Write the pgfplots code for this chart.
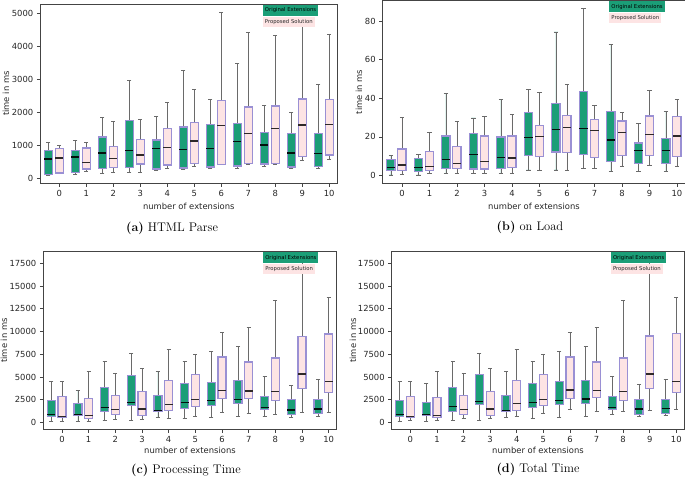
\documentclass[border=0pt]{standalone}
\usepackage{fontspec}
\usepackage{pgfplots}
\usepackage{pgfplotstable}
\pgfplotsset{compat=1.18}
\usepgfplotslibrary{statistics}
\newfontfamily\dv{DejaVu Sans}
\definecolor{gfill}{HTML}{1B9E77}
\definecolor{pfill}{HTML}{FDE4E4}
\definecolor{bedge}{HTML}{9A90D4}
\definecolor{whisk}{HTML}{6A6A6A}
\definecolor{frame}{HTML}{444444}
\definecolor{pmed}{HTML}{2E2828}

% ---- HTML Parse ----
\pgfplotstableread{
lw q1 med q3 uw
100 120 590 855 1090
120 190 655 845 1157
150 310 775 1257 1860
180 340 855 1750 2968
260 290 905 1167 1880
290 320 875 1560 3270
312 352 915 1630 2404
312 382 1117 1670 3471
362 443 1016 1388 2203
312 352 775 1368 2002
302 372 755 1368 2847
}\aG
\pgfplotstableread{
lw q1 med q3 uw
160 170 625 905 1005
220 290 490 925 1097
200 340 615 965 1740
200 440 715 1177 1800
320 410 945 1510 2314
370 460 1137 1700 2706
423 433 1600 2364 5030
440 453 1358 2163 4417
430 453 1519 2193 4336
563 674 1620 2404 4700
594 714 1640 2384 4366
}\aP
% ---- on Load ----
\pgfplotstableread{
lw q1 med q3 uw
0.3 2.6 4.1 8.4 10.5
0.3 2.2 4.3 8.8 10.8
1.2 3.8 8.3 20.5 42.5
0.9 3.4 10.8 21.8 29.8
1.2 3.6 9.5 20.0 39.2
2.9 10.3 19.8 32.7 44.6
2.9 12.2 23.9 37.3 74.3
3.8 10.8 24.3 43.7 86.4
2.2 7.1 18.4 33.0 68.0
2.2 6.2 13.1 16.9 27.2
1.9 6.2 12.9 19.1 33.0
}\bG
\pgfplotstableread{
lw q1 med q3 uw
0.7 2.6 5.5 13.8 30.1
0.9 2.8 4.6 12.4 22.2
0.9 3.6 6.4 15.0 28.0
0.9 3.4 7.2 20.5 30.8
0.9 4.3 9.1 20.5 31.7
2.9 9.8 20.1 26.0 43.0
2.9 12.0 24.9 31.1 47.0
3.8 9.5 23.4 29.1 36.5
5.0 10.2 22.4 28.2 32.5
5.5 10.5 21.3 30.8 43.9
5.0 10.0 20.5 30.6 39.6
}\bP
% ---- Processing Time ----
\pgfplotstableread{
lw q1 med q3 uw
147 697 844 2421 4512
147 770 880 2128 3522
183 1174 1614 3852 6713
257 1871 2201 5209 7630
514 1174 1284 2971 5576
477 1577 2201 4255 6713
514 1834 2384 4402 7777
660 2054 2531 4659 8401
660 1431 1614 2898 5062
587 844 1357 2531 4109
697 990 1467 2531 4732
}\cG
\pgfplotstableread{
lw q1 med q3 uw
147 514 660 2825 4512
147 477 770 2678 5650
293 844 1431 2971 5393
293 770 1467 3412 5906
477 1357 1981 4622 7997
697 1797 2531 5282 7483
1137 2605 3522 7190 9905
954 2678 3448 6640 10455
917 2458 3412 7080 13463
1100 3742 5319 9464 17900
1137 3302 4512 9721 13757
}\cP
% ---- Total Time ----
\pgfplotstableread{
lw q1 med q3 uw
147 697 844 2421 4512
147 770 880 2201 4329
220 1174 1761 3852 6713
257 1944 2311 5282 7630
587 1174 1284 3008 5576
440 1651 2201 4255 6750
514 1981 2421 4475 7814
660 2091 2568 4659 8401
844 1431 1614 2898 5026
697 880 1467 2494 4145
770 990 1541 2531 4732
}\dG
\pgfplotstableread{
lw q1 med q3 uw
257 514 660 2861 4512
257 514 770 2715 5650
440 844 1431 2971 5429
440 807 1467 3412 5906
660 1357 2054 4622 7997
954 1834 2531 5282 7483
1394 2641 3558 7190 9905
1247 2715 3485 6640 10455
1247 2458 3412 7080 13463
1357 3742 5319 9501 17900
1431 3302 4512 9758 13757
}\dP

\pgfplotsset{
  panel/.style={
    scale only axis, anchor=south west,
    xmin=-0.7, xmax=10.3,
    xtick={0,...,10},
    tick align=outside, tick pos=left,
    major tick length=3.5pt,
    axis line style={draw=frame, line width=0.8pt},
    every tick/.style={draw=frame, line width=0.8pt},
    ticklabel style={font=\dv\fontsize{8.4}{10}\selectfont, text=black!85},
    /pgf/number format/assume math mode=true,
    /pgf/number format/1000 sep={},
    scaled y ticks=false,
    xlabel={number of extensions},
    ylabel={time in ms},
    label style={font=\dv\fontsize{8.4}{10}\selectfont, text=black!85},
    boxplot/draw direction=y,
    boxplot/box extend=0.30,
    boxplot/whisker extend=0.15,
    boxplot/every whisker/.style={draw=whisk, line width=0.8pt},
    boxplot/every box/.style={draw=bedge, line width=1.2pt},
  },
  gbox/.style={fill=gfill, draw=bedge,
    boxplot/every median/.style={draw=black!90!gfill, line width=1.3pt}},
  pbox/.style={fill=pfill, draw=bedge,
    boxplot/every median/.style={draw=pmed, line width=1.3pt}},
}
\newcommand{\legendnodes}{%
  \node[anchor=north west, fill=gfill, text=black, font=\dv\fontsize{5.3}{6}\selectfont,
        inner xsep=2pt, inner ysep=0pt, minimum height=11pt] at (axis description cs:0.749,0.998) {Original Extensions};
  \node[anchor=north west, fill=pfill, text=black!85, font=\dv\fontsize{5.3}{6}\selectfont,
        inner xsep=2pt, inner ysep=0pt, minimum height=10pt] at (axis description cs:0.749,0.931) {Proposed Solution};
}
% one box: #1 style, #2 table, #3 row, #4 draw position
\newcommand{\onebox}[4]{%
  \pgfplotstablegetelem{#3}{lw}\of#2\let\vlw\pgfplotsretval
  \pgfplotstablegetelem{#3}{q1}\of#2\let\vqa\pgfplotsretval
  \pgfplotstablegetelem{#3}{med}\of#2\let\vmed\pgfplotsretval
  \pgfplotstablegetelem{#3}{q3}\of#2\let\vqb\pgfplotsretval
  \pgfplotstablegetelem{#3}{uw}\of#2\let\vuw\pgfplotsretval
  \edef\tmpplot{\noexpand\addplot[#1, boxplot prepared={draw position=#4,
      lower whisker=\vlw, lower quartile=\vqa, median=\vmed,
      upper quartile=\vqb, upper whisker=\vuw}] coordinates {};}%
  \tmpplot
}
\newcommand{\boxes}[2]{%
  \pgfplotsinvokeforeach{0,...,10}{
    \onebox{gbox}{#1}{##1}{##1-0.4}
    \onebox{pbox}{#2}{##1}{##1}
  }%
}

\begin{document}
\begin{tikzpicture}
\path[use as bounding box] (0,0) rectangle (685pt,477pt);

\begin{axis}[panel, at={(40.3pt,293.7pt)}, width=297pt, height=179.3pt,
  ymin=-140, ymax=5275, ytick={0,1000,...,5000},
  ylabel style={at={(axis description cs:-0.1155,0.5)}, anchor=center},
  xlabel style={at={(axis description cs:0.5,-0.127)}, anchor=center}]
\boxes{\aG}{\aP}
\legendnodes
\end{axis}

\begin{axis}[panel, at={(382.7pt,293.7pt)}, width=302.5pt, height=182.8pt,
  ymin=-4, ymax=90.6, ytick={0,20,...,80},
  ylabel style={at={(axis description cs:-0.078,0.5)}, anchor=center},
  xlabel style={at={(axis description cs:0.5,-0.124)}, anchor=center}]
\boxes{\bG}{\bP}
\legendnodes
\end{axis}

\begin{axis}[panel, at={(43.3pt,47.7pt)}, width=293.4pt, height=177.6pt,
  ymin=-750, ymax=18780, ytick={0,2500,...,17500},
  ylabel style={at={(axis description cs:-0.134,0.5)}, anchor=center},
  xlabel style={at={(axis description cs:0.5,-0.1205)}, anchor=center}]
\boxes{\cG}{\cP}
\legendnodes
\end{axis}

\begin{axis}[panel, at={(391.7pt,47.7pt)}, width=292.6pt, height=177.6pt,
  ymin=-750, ymax=18780, ytick={0,2500,...,17500},
  ylabel style={at={(axis description cs:-0.132,0.5)}, anchor=center},
  xlabel style={at={(axis description cs:0.5,-0.1205)}, anchor=center}]
\boxes{\dG}{\dP}
\legendnodes
\end{axis}

\node[font=\fontsize{12.5}{14}\selectfont] at (172pt,249pt) {\textbf{(a)} HTML Parse};
\node[font=\fontsize{12.5}{14}\selectfont] at (530pt,249.3pt) {\textbf{(b)} on Load};
\node[font=\fontsize{12.5}{14}\selectfont] at (186pt,7pt) {\textbf{(c)} Processing Time};
\node[font=\fontsize{12.5}{14}\selectfont] at (538pt,7.7pt) {\textbf{(d)} Total Time};
\end{tikzpicture}
\end{document}
